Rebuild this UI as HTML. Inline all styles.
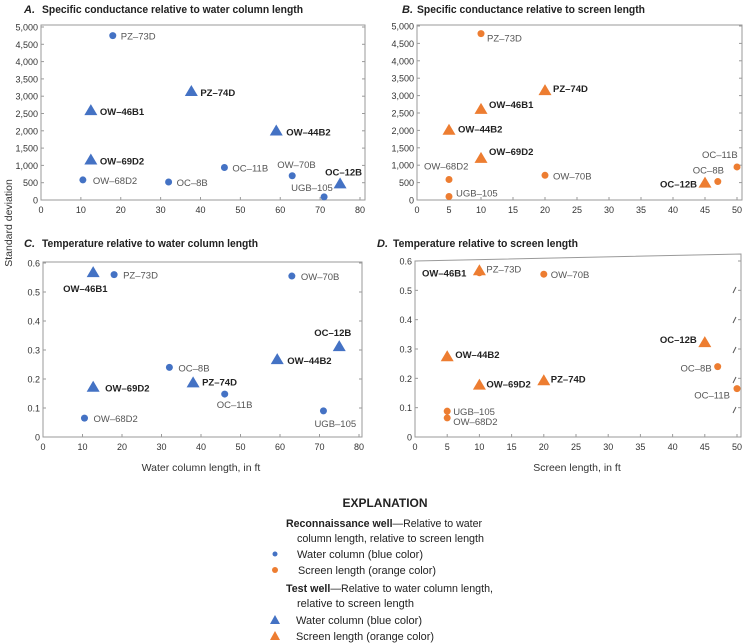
<!DOCTYPE html>
<html><head><meta charset="utf-8"><style>
html,body{margin:0;padding:0;background:#fff}
svg{display:block}
text{font-family:"Liberation Sans Narrow","Liberation Sans",sans-serif}
</style></head><body>
<svg id="s" width="743" height="644" viewBox="0 0 743 644" xmlns="http://www.w3.org/2000/svg">
<g font-size="11" font-weight="bold" fill="#222">
<text x="24" y="13" font-style="italic">A.</text><text x="42" y="13" textLength="261" lengthAdjust="spacingAndGlyphs">Specific conductance relative to water column length</text>
<text x="402" y="13" font-style="italic">B.</text><text x="417" y="13" textLength="228" lengthAdjust="spacingAndGlyphs">Specific conductance relative to screen length</text>
<text x="24" y="247" font-style="italic">C.</text><text x="42" y="247" textLength="216" lengthAdjust="spacingAndGlyphs">Temperature relative to water column length</text>
<text x="377" y="247" font-style="italic">D.</text><text x="393" y="247" textLength="185" lengthAdjust="spacingAndGlyphs">Temperature relative to screen length</text>
</g>
<text transform="translate(12,223) rotate(-90)" text-anchor="middle" font-size="10.5" fill="#333">Standard deviation</text>
<text x="201" y="471" text-anchor="middle" font-size="10.5" fill="#333">Water column length, in ft</text>
<text x="577" y="471" text-anchor="middle" font-size="10.5" fill="#333">Screen length, in ft</text>
<g fill="#222" font-size="11">
<text x="385" y="507" text-anchor="middle" font-weight="bold" font-size="12">EXPLANATION</text>
<text x="286" y="527" textLength="196" lengthAdjust="spacingAndGlyphs"><tspan font-weight="bold">Reconnaissance well</tspan>—Relative to water</text>
<text x="297" y="542" textLength="187" lengthAdjust="spacingAndGlyphs">column length, relative to screen length</text>
<circle cx="275" cy="554" r="2.5" fill="#4472c4"/>
<text x="297" y="558" textLength="126" lengthAdjust="spacingAndGlyphs">Water column (blue color)</text>
<circle cx="275" cy="570" r="3" fill="#ed7d31"/>
<text x="298" y="574" textLength="138" lengthAdjust="spacingAndGlyphs">Screen length (orange color)</text>
<text x="286" y="592" textLength="207" lengthAdjust="spacingAndGlyphs"><tspan font-weight="bold">Test well</tspan>—Relative to water column length,</text>
<text x="297" y="607" textLength="117" lengthAdjust="spacingAndGlyphs">relative to screen length</text>
<polygon points="286,615 291,624 281,624" fill="#4472c4" transform="translate(-11,0)"/>
<text x="296" y="624" textLength="126" lengthAdjust="spacingAndGlyphs">Water column (blue color)</text>
<polygon points="275,631 280,640 270,640" fill="#ed7d31"/>
<text x="296" y="640" textLength="138" lengthAdjust="spacingAndGlyphs">Screen length (orange color)</text>
</g>
</svg>
<script>
const S=document.getElementById('s');const NS='http://www.w3.org/2000/svg';
function el(t,a,txt){const e=document.createElementNS(NS,t);for(const k in a)e.setAttribute(k,a[k]);if(txt!==undefined)e.textContent=txt;S.appendChild(e);return e;}
const BLUE='#4472c4',OR='#ed7d31';
function panel(P){
 const X=v=>P.x0+(P.x1-P.x0)*v/P.xmax, Y=v=>P.y0+(P.y1-P.y0)*v/P.ymax;
 el('path',{d:P.frame,fill:'none',stroke:'#9a9a9a','stroke-width':1});
 P.xt.forEach(v=>{const x=X(v);el('line',{x1:x,x2:x,y1:P.y0,y2:P.y0-3,stroke:'#9a9a9a'});
  el('text',{x:x,y:P.y0+13,'text-anchor':'middle','font-size':9,fill:'#333'},v);});
 P.yt.forEach((v,i)=>{const y=Y(v);el('line',{x1:P.fl,x2:P.fl+3,y1:y,y2:y,stroke:'#9a9a9a'});
  el('line',{x1:P.fr,x2:P.fr-3,y1:y,y2:y,stroke:'#9a9a9a'});
  el('text',{x:P.fl-3,y:y+3.5,'text-anchor':'end','font-size':9,fill:'#333'},P.yl[i]);});
 P.pts.forEach(p=>{const x=X(p[0]),y=Y(p[1]);const c=P.c;
  if(p[3])el('polygon',{points:`${x},${y-7} ${x+6.5},${y+4} ${x-6.5},${y+4}`,fill:c});
  else el('circle',{cx:x,cy:y,r:3.5,fill:c});
  el('text',{x:x+p[4],y:y+p[5],'text-anchor':p[6]||'start','font-size':p[3]?9.5:9.5,'font-weight':p[3]?'bold':'normal',fill:p[3]?'#222':'#555'},p[2]);});
}
const yA=[0,500,1000,1500,2000,2500,3000,3500,4000,4500,5000],yAl=['0','500','1,000','1,500','2,000','2,500','3,000','3,500','4,000','4,500','5,000'];
const yC=[0,0.1,0.2,0.3,0.4,0.5,0.6],yCl=['0','0.1','0.2','0.3','0.4','0.5','0.6'];
panel({x0:41,x1:360,xmax:80,y0:200,y1:27,ymax:5000,fl:41,fr:365,frame:'M41,25H365V200H41Z',c:BLUE,
 xt:[0,10,20,30,40,50,60,70,80],yt:yA,yl:yAl,pts:[
 [18,4750,'PZ–73D',0,8,4],[10.5,580,'OW–68D2',0,10,4],[32,520,'OC–8B',0,8,4],[46,940,'OC–11B',0,8,4],
 [63,700,'OW–70B',0,-15,-8],[71,90,'UGB–105',0,-33,-6],
 [37.7,3120,'PZ–74D',1,9,4],[12.5,2570,'OW–46B1',1,9,4],[59,1980,'OW–44B2',1,10,4],[12.5,1140,'OW–69D2',1,9,4],[75,450,'OC–12B',1,-15,-9]]});
panel({x0:417,x1:737,xmax:50,y0:200,y1:26,ymax:5000,fl:417,fr:742,frame:'M417,25H742V200H417Z',c:OR,
 xt:[0,5,10,15,20,25,30,35,40,45,50],yt:yA,yl:yAl,pts:[
 [10,4780,'PZ–73D',0,6,8],[5,590,'OW–68D2',0,-25,-10],[5,100,'UGB–105',0,7,0],[20,710,'OW–70B',0,8,4],
 [47,530,'OC–8B',0,-25,-8],[50,950,'OC–11B',0,-35,-9],
 [20,3130,'PZ–74D',1,8,1],[10,2590,'OW–46B1',1,8,-2],[5,1990,'OW–44B2',1,9,2],[10,1180,'OW–69D2',1,8,-4],[45,470,'OC–12B',1,-8,4,'end']]});
panel({x0:43,x1:359,xmax:80,y0:437,y1:263,ymax:0.6,fl:43,fr:362,frame:'M43,262H362V437H43Z',c:BLUE,
 xt:[0,10,20,30,40,50,60,70,80],yt:yC,yl:yCl,pts:[
 [18,0.56,'PZ–73D',0,9,4],[63,0.555,'OW–70B',0,9,4],[32,0.24,'OC–8B',0,9,4],[46,0.148,'OC–11B',0,-8,14],
 [71,0.09,'UGB–105',0,-9,16],[10.5,0.065,'OW–68D2',0,9,4],
 [12.7,0.565,'OW–46B1',1,-30,19],[75,0.31,'OC–12B',1,-25,-11],[59.3,0.265,'OW–44B2',1,10,4],[12.7,0.17,'OW–69D2',1,12,4],[38,0.185,'PZ–74D',1,9,2]]});
panel({x0:415,x1:737,xmax:50,y0:437,y1:261,ymax:0.6,fl:415,fr:741,frame:'M415,261L741,254V437H415Z',c:OR,
 xt:[0,5,10,15,20,25,30,35,40,45,50],yt:yC,yl:yCl,pts:[
 [10,0.56,'PZ–73D',0,7,0],[20,0.555,'OW–70B',0,7,4],[5,0.088,'UGB–105',0,6,4],[5,0.065,'OW–68D2',0,6,7],
 [47,0.24,'OC–8B',0,-6,5,'end'],[50,0.165,'OC–11B',0,-7,10,'end'],
 [10,0.565,'OW–46B1',1,-13,5,'end'],[5,0.272,'OW–44B2',1,8,1],[10,0.175,'OW–69D2',1,7,2],[20,0.19,'PZ–74D',1,7,1],[45,0.32,'OC–12B',1,-8,0,'end']]});
[290,320,350,380,410].forEach(y=>el('line',{x1:733,x2:736,y1:y+3,y2:y-3,stroke:'#555'}));
</script>
</body></html>
